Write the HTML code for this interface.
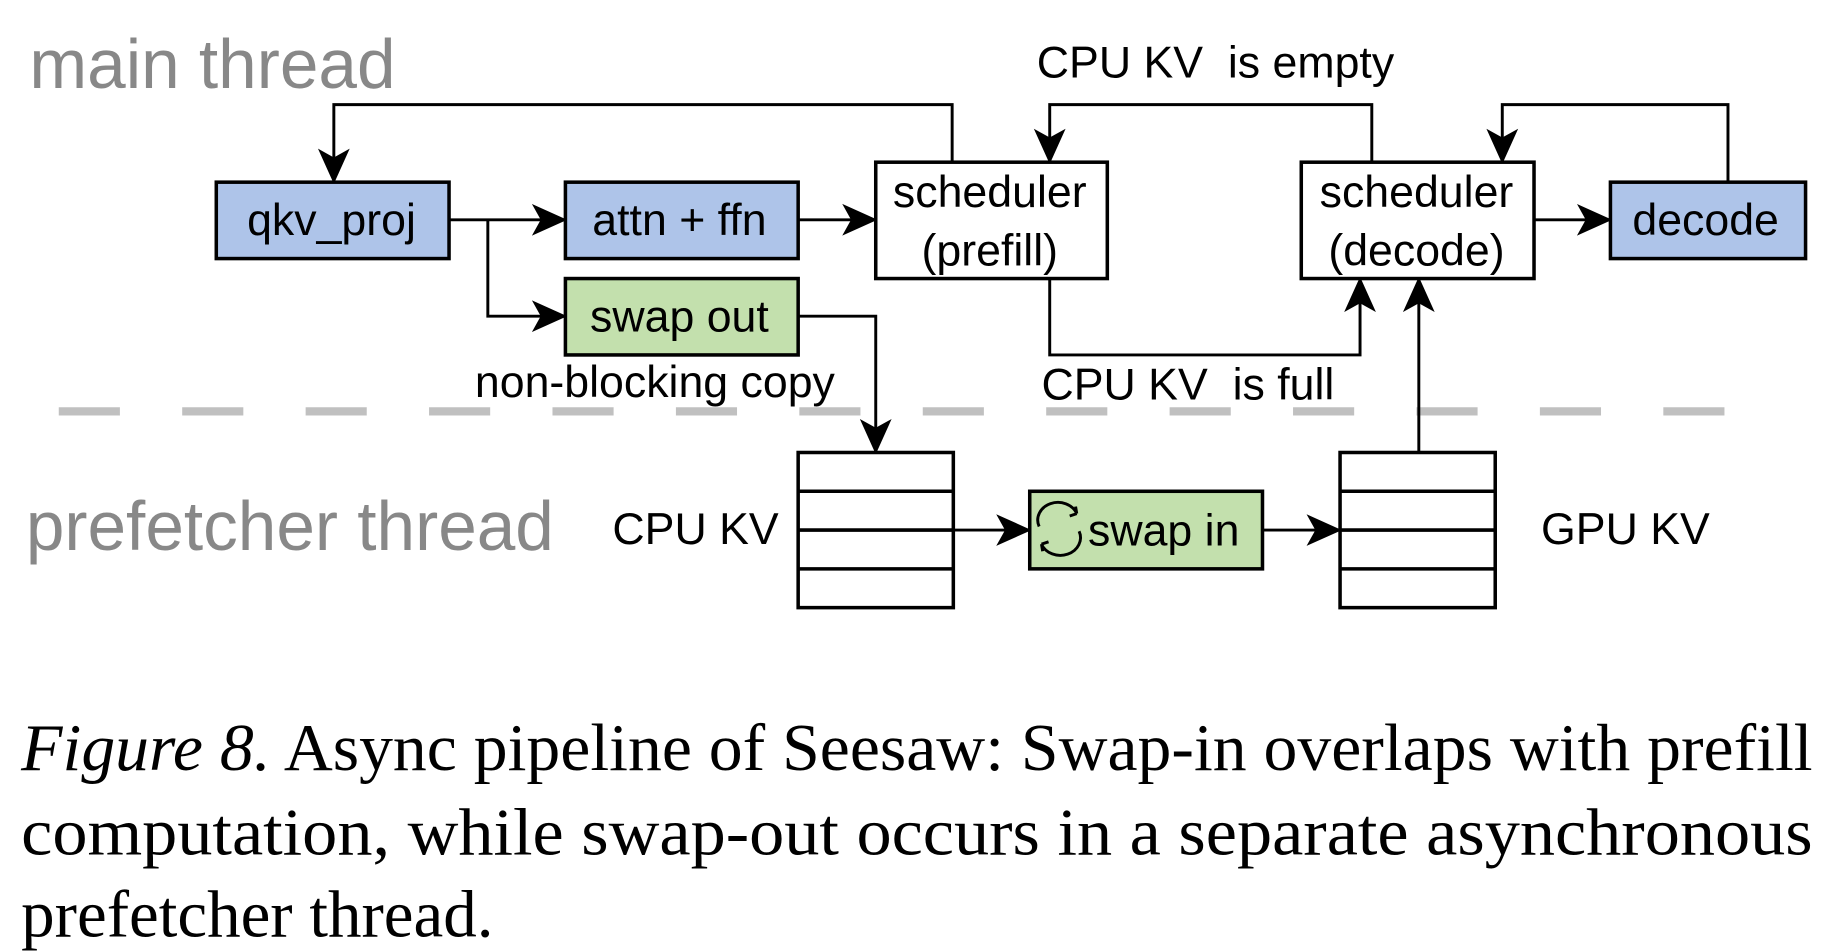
<!DOCTYPE html>
<html><head><meta charset="utf-8"><style>
html,body{margin:0;padding:0;background:#fff;}
svg{display:block;}
</style></head><body>
<svg width="1842" height="952" viewBox="0 0 1567 810" preserveAspectRatio="none" xmlns="http://www.w3.org/2000/svg">
<defs>
<marker id="b" viewBox="0 0 20 20" refX="19" refY="10" markerWidth="30" markerHeight="30" markerUnits="userSpaceOnUse" orient="auto">
<path d="M0,1 L20,10 L0,19 L5,10 Z" fill="#000"/>
</marker>
</defs>
<g font-family="Liberation Sans, Arial, sans-serif">
<text x="25" y="75" font-size="59" fill="#888">main thread</text>
<text x="22" y="468" font-size="59" fill="#888">prefetcher thread</text>

<line x1="50" y1="350" x2="1476" y2="350" stroke="#c0c0c0" stroke-width="7" stroke-dasharray="52,53"/>

<g stroke="#000" stroke-width="2.5" fill="none">
<polyline points="382,187 481,187" marker-end="url(#b)"/>
<polyline points="415,187 415,269 481,269" marker-end="url(#b)"/>
<polyline points="679,187 745,187" marker-end="url(#b)"/>
<polyline points="810,138 810,89 284,89 284,155" marker-end="url(#b)"/>
<polyline points="1167,138 1167,89 893,89 893,138" marker-end="url(#b)"/>
<polyline points="1470,155 1470,89 1278,89 1278,138" marker-end="url(#b)"/>
<polyline points="1305,187 1370,187" marker-end="url(#b)"/>
<polyline points="893,237 893,302 1157,302 1157,237" marker-end="url(#b)"/>
<polyline points="679,269 745,269 745,385" marker-end="url(#b)"/>
<polyline points="1207,385 1207,237" marker-end="url(#b)"/>
<polyline points="811,451 876,451" marker-end="url(#b)"/>
<polyline points="1074,451 1140,451" marker-end="url(#b)"/>
</g>

<g stroke="#000" stroke-width="3">
<rect x="184" y="155" width="198" height="65" fill="#aec4e9"/>
<rect x="481" y="155" width="198" height="65" fill="#aec4e9"/>
<rect x="481" y="237" width="198" height="65" fill="#c3e0ad"/>
<rect x="745" y="138" width="197" height="99" fill="#fff"/>
<rect x="1107" y="138" width="198" height="99" fill="#fff"/>
<rect x="1370" y="155" width="166" height="65" fill="#aec4e9"/>
<rect x="876" y="418" width="198" height="66" fill="#c3e0ad"/>
<rect x="679" y="385" width="132" height="132" fill="#fff"/>
<line x1="679" y1="418" x2="811" y2="418"/><line x1="679" y1="451" x2="811" y2="451"/><line x1="679" y1="484" x2="811" y2="484"/>
<rect x="1140" y="385" width="132" height="132" fill="#fff"/>
<line x1="1140" y1="418" x2="1272" y2="418"/><line x1="1140" y1="451" x2="1272" y2="451"/><line x1="1140" y1="484" x2="1272" y2="484"/>
</g>

<g font-size="38" fill="#000" text-anchor="middle">
<text x="282" y="200">qkv_proj</text>
<text x="578" y="200">attn + ffn</text>
<text x="578" y="282">swap out</text>
<text x="842" y="176">scheduler</text>
<text x="842" y="226">(prefill)</text>
<text x="1205" y="176">scheduler</text>
<text x="1205" y="226">(decode)</text>
<text x="1451" y="200">decode</text>
<text x="990" y="464">swap in</text>
</g>
<g stroke="#000" stroke-width="2.5" fill="none">
<path d="M916,437 A16,14 0 0 0 884,448"/>
<path d="M886,463 A16,14 0 0 0 918,452"/>
<path d="M916,437 l-1,-6 M916,437 l-6,2"/>
<path d="M886,463 l1,6 M886,463 l6,-2"/>
</g>
<g font-size="38" fill="#000">
<text x="882" y="66">CPU KV&#160; is empty</text>
<text x="886" y="340">CPU KV&#160; is full</text>
<text x="404" y="338">non-blocking copy</text>
<text x="521" y="463">CPU KV</text>
<text x="1311" y="463">GPU KV</text>
</g>
</g>
<g font-family="Liberation Serif, Times New Roman, serif" font-size="57" fill="#000">
<text x="18" y="655" textLength="1524" lengthAdjust="spacingAndGlyphs"><tspan font-style="italic">Figure 8.</tspan> Async pipeline of Seesaw: Swap-in overlaps with prefill</text>
<text x="18" y="727" textLength="1524" lengthAdjust="spacingAndGlyphs">computation, while swap-out occurs in a separate asynchronous</text>
<text x="18" y="797">prefetcher thread.</text>
</g>
</svg>
</body></html>
